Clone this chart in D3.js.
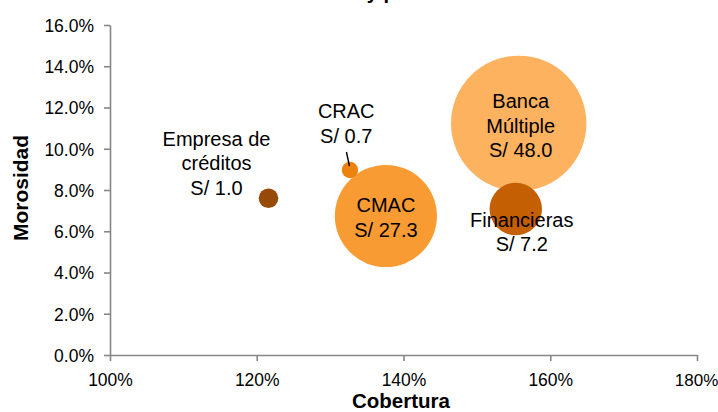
<!DOCTYPE html>
<html>
<head>
<meta charset="utf-8">
<script src="https://cdn.jsdelivr.net/npm/d3@7"></script>
<style>
  html, body { margin: 0; padding: 0; background: #fff; }
  svg { display: block; font-family: "Liberation Sans", Arial, sans-serif; }
</style>
</head>
<body>
<svg id="chart" width="718" height="412"></svg>
<script>
// ---- data ----
const entities  = ["Banca Múltiple", "CMAC", "Financieras", "Empresa de créditos", "CRAC"];
const labelLines = [["Banca", "Múltiple", "S/ 48.0"], ["CMAC", "S/ 27.3"], ["Financieras", "S/ 7.2"], ["Empresa de", "créditos", "S/ 1.0"], ["CRAC", "S/ 0.7"]];
const cobertura = [1.557, 1.376, 1.553, 1.216, 1.327];
const morosidad = [0.1123, 0.0674, 0.0708, 0.0760, 0.0897];
const saldo     = [48.0, 27.3, 7.2, 1.0, 0.7];
const xTicks = [1.0, 1.2, 1.4, 1.6, 1.8];
const yTicks = [0, 0.02, 0.04, 0.06, 0.08, 0.10, 0.12, 0.14, 0.16];

// ---- styles / layout ----
const colors = ["#FDB25F", "#F99B33", "#C45F04", "#974A08", "#EE820F"];
const labelOffsets = [[2, -15], [0, -3.5], [6, 17.7], [-52, -52.3], [-3.7, -51.7]];
const lineH = 24.3;

const svg = d3.select("#chart");
const x = d3.scaleLinear().domain([1.0, 1.8]).range([110, 697]);
const y = d3.scaleLinear().domain([0, 0.16]).range([355, 25]);
const r = d3.scaleSqrt().domain([0, 48]).range([0, 67.7]);

// title (cut off at top, as in the reference)
svg.append("text")
  .attr("x", 378).attr("y", -1)
  .attr("text-anchor", "middle")
  .attr("font-weight", "bold").attr("font-size", 20)
  .text("Morosidad y provisiones");

// axes
const axisColor = "#868686";
const yAxis = svg.append("g").attr("transform", "translate(110,0)")
  .call(d3.axisLeft(y).tickValues(yTicks).tickFormat(d3.format(".1%")).tickSize(6).tickSizeOuter(0));
const xAxis = svg.append("g").attr("transform", "translate(0,355)")
  .call(d3.axisBottom(x).tickValues(xTicks).tickFormat(d3.format(".0%")).tickSize(6).tickSizeOuter(0));
[yAxis, xAxis].forEach(g => {
  g.selectAll("path, line").attr("stroke", axisColor).attr("stroke-width", 1.6);
  g.selectAll("text").attr("fill", "#000").attr("font-size", 17.5)
    .attr("font-family", "'Liberation Sans', Arial, sans-serif");
});
yAxis.selectAll("text").attr("x", -16).attr("dy", "0.36em");
xAxis.selectAll("text").attr("y", 19).attr("dy", "0.71em");
xAxis.selectAll(".tick:last-of-type text").attr("font-size", 17).attr("x", -1);

// axis titles
svg.append("text")
  .attr("transform", "translate(28,188) rotate(-90)")
  .attr("text-anchor", "middle").attr("font-weight", "bold").attr("font-size", 21)
  .text("Morosidad");
svg.append("text")
  .attr("x", 401).attr("y", 408)
  .attr("text-anchor", "middle").attr("font-weight", "bold").attr("font-size", 20.5)
  .text("Cobertura");

// bubbles
const idx = d3.range(entities.length);
svg.append("g").selectAll("circle").data(idx).join("circle")
  .attr("cx", i => x(cobertura[i]))
  .attr("cy", i => y(morosidad[i]))
  .attr("r", i => r(saldo[i]))
  .attr("fill", i => colors[i]);

// leader line for CRAC
const ci = 4;
svg.append("line")
  .attr("x1", x(cobertura[ci]) - 3.5).attr("y1", y(morosidad[ci]) - 18)
  .attr("x2", x(cobertura[ci]) - 0.5).attr("y2", y(morosidad[ci]) - 4)
  .attr("stroke", "#000").attr("stroke-width", 1.4);

// labels
const lg = svg.append("g");
idx.forEach(i => {
  const cx = x(cobertura[i]) + labelOffsets[i][0];
  const cy = y(morosidad[i]) + labelOffsets[i][1];
  const t = lg.append("text")
    .attr("text-anchor", "middle").attr("font-size", 20).attr("fill", "#000");
  labelLines[i].forEach((ln, k) => {
    t.append("tspan").attr("x", cx).attr("y", cy + k * lineH).text(ln);
  });
});
</script>
</body>
</html>
